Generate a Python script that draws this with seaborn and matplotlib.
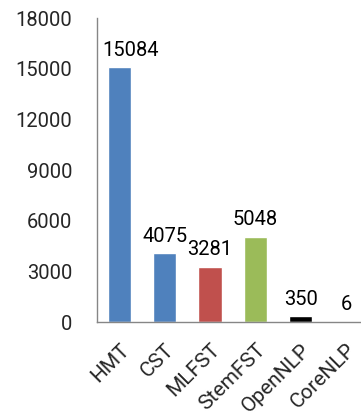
import numpy as np
import pandas as pd
import matplotlib
matplotlib.use("Agg")
import matplotlib.pyplot as plt
import seaborn as sns

# chart values
tools = ["HMT", "CST", "MLFST", "StemFST", "OpenNLP", "CoreNLP"]
counts = [15084, 4075, 3281, 5048, 350, 6]
bar_colors = ["#4F81BD", "#4F81BD", "#C0504D", "#9BBB59", "#000000", "#8064A2"]
yticks = [0, 3000, 6000, 9000, 12000, 15000, 18000]

df = pd.DataFrame({"tool": tools, "count": counts})

sns.set_style("white")
plt.rcParams["font.family"] = ["Roboto", "DejaVu Sans"]

fig = plt.figure(figsize=(3.61, 4.20), dpi=100)
ax = fig.add_axes([0.268, 0.233, 0.753, 0.724])

sns.barplot(data=df, x="tool", y="count", hue="tool", palette=bar_colors,
            legend=False, width=0.51, saturation=1, ax=ax)

# first label sits a bit right of its bar, as in the original
for i, v in enumerate(counts):
    dx = 0.24 if i == 0 else 0.0
    ax.text(i + dx, v + 450, str(v), ha="center", va="bottom", fontsize=14.5, color="#000000")

ax.set_xlim(-0.5, len(tools) - 0.5)
ax.set_ylim(0, 18000)
ax.set_yticks(yticks)
ax.set_yticklabels([str(t) for t in yticks], fontsize=14.5)
ax.set_xticks(range(len(tools)))
ax.set_xticklabels(tools, fontsize=15, rotation=45, ha="right", rotation_mode="anchor")
ax.set_xticks(np.arange(-0.5, len(tools), 1.0), minor=True)
ax.tick_params(axis="x", which="major", length=0, pad=13)
ax.tick_params(axis="x", which="minor", length=4.5, color="#868686", width=1, direction="out")
ax.tick_params(axis="y", length=4.5, color="#868686", width=1, direction="out", pad=13)
ax.set_xlabel("")
ax.set_ylabel("")

for s in ["top", "right"]:
    ax.spines[s].set_visible(False)
for s in ["left", "bottom"]:
    ax.spines[s].set_color("#868686")
    ax.spines[s].set_linewidth(1)

fig.savefig("out.png", dpi=100)
